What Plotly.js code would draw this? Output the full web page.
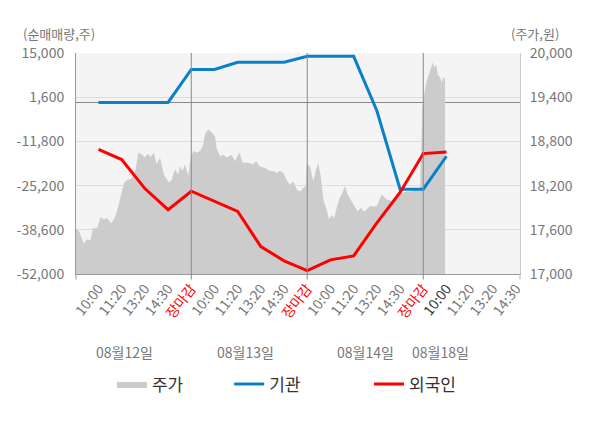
<!DOCTYPE html>
<html>
<head>
<meta charset="utf-8">
<script src="https://cdn.plot.ly/plotly-3.0.1.min.js"></script>
<style>
  body { margin: 0; background: #fff; }
  #graphe { width: 600px; height: 428px; }
</style>
</head>
<body>
<div id="graphe"></div>
<script>
// axe des x : une case par libelle horaire
let creneaux = [0,1,2,3,4,5,6,7,8,9,10,11,12,13,14,15,16,17,18]
let libelles = ["10:00","11:20","13:20","14:30","장마감",
                "10:00","11:20","13:20","14:30","장마감",
                "10:00","11:20","13:20","14:30","장마감",
                "10:00","11:20","13:20","14:30"]
let jours = ["08월12일", "08월13일", "08월14일", "08월18일"]
let separateurs = [4, 9, 14]

// cours (axe de droite)
let cours_x = [-0.97,-0.84,-0.63,-0.51,-0.34,-0.24,-0.06,0.09,0.24,0.37,0.54,0.70,0.84,0.96,1.10,1.24,1.41,1.60,1.72,1.89,
    1.99,2.13,2.25,2.39,2.51,2.65,2.82,3.04,3.16,3.22,3.30,3.44,3.51,3.63,3.73,3.87,
    3.97,4.09,4.23,4.38,4.52,4.59,4.73,4.88,5.02,5.09,5.24,5.38,5.53,5.74,5.88,6.07,6.22,6.46,6.67,6.79,6.96,
    7.18,7.36,7.53,7.68,7.82,7.97,8.11,8.25,8.40,8.54,8.69,8.83,8.93,
    8.97,9.12,9.26,9.36,9.47,9.59,9.69,9.84,9.94,10.05,10.16,10.27,10.37,10.51,10.63,10.74,10.88,11.03,11.17,
    11.31,11.46,11.70,11.99,12.21,12.42,12.64,12.85,13.07,13.28,13.50,13.72,13.86,
    13.96,14.07,14.15,14.25,14.33,14.41,14.47,14.55,14.62,14.72,14.80,14.87,14.94]
let cours = [17620,17580,17410,17470,17460,17620,17620,17770,17740,17760,17690,17760,17900,18050,18240,18280,18290,18420,18650,18620,
    18580,18630,18590,18650,18490,18580,18350,18240,18280,18350,18420,18350,18460,18400,18490,18330,
    18580,18670,18650,18670,18760,18900,18960,18920,18870,18710,18600,18620,18580,18620,18530,18650,18510,18510,18490,18530,18460,
    18440,18400,18400,18370,18400,18370,18280,18210,18260,18150,18120,18170,18190,
    18490,18460,18260,18400,18510,18310,18010,17870,17740,17800,17760,17900,18010,18100,18190,18080,18010,17920,17850,
    17900,17850,17920,17920,18080,18010,17990,18080,18100,18120,18120,18150,18120,
    19260,19490,19620,19710,19780,19870,19800,19850,19710,19670,19600,19670,19650]

// net achats (axe de gauche)
let flux_x = [0,1,2,3,4,5,6,7,8,9,10,11,12,13,14,15]
let institutions = [0,0,0,0,10000,10000,12200,12200,12200,14000,14000,14000,-2500,-26300,-26300,-16300]
let etrangers = [-14200,-17300,-26100,-32500,-26900,-29900,-33000,-43700,-48000,-51000,-47700,-46500,-36500,-27300,-15500,-15000]

let ticks_gauche = [-52000,-38600,-25200,-11800,1600,15000]
let ticks_droite = [17000,17600,18200,18800,19400,20000]

let police = "Noto Sans CJK KR, Noto Sans, sans-serif"

function texte_tick(i){
    if (libelles[i] == "장마감"){
        return '<span style="color:#ff0000">' + libelles[i] + '</span>'
    }
    if (i == 15){
        return '<span style="color:#333333">' + libelles[i] + '</span>'
    }
    return libelles[i]
}

// le cours est sur l'axe de base pour rester sous les courbes
let data = [
    {x: cours_x, y: cours, yaxis: "y", type: "scatter", mode: "lines", name: "주가",
        fill: "tozeroy", fillcolor: "#cccccc", line: {width: 0, color: "#cccccc"}, legend: "legend"},
    {x: flux_x, y: institutions, yaxis: "y2", type: "scatter", mode: "lines", name: "기관",
        line: {width: 3, color: "#0a80c9"}, legend: "legend2"},
    {x: flux_x, y: etrangers, yaxis: "y2", type: "scatter", mode: "lines", name: "외국인",
        line: {width: 3, color: "#ff0000"}, legend: "legend3"}
]

let shapes = []
for (let s of separateurs){
    shapes.push({type: "line", xref: "x", yref: "paper", x0: s, x1: s, y0: -0.025, y1: 1,
        line: {color: "#8a8a8a", width: 1}})
}
shapes.push({type: "line", xref: "paper", yref: "paper", x0: 0, x1: 0, y0: -0.025, y1: 0,
    line: {color: "#999999", width: 1}})
shapes.push({type: "line", xref: "paper", yref: "paper", x0: 1, x1: 1, y0: -0.025, y1: 0,
    line: {color: "#bbbbbb", width: 1}})

let positions_jours = [0.110, 0.381, 0.653, 0.822]
let annotations = [
    {text: "(순매매량,주)", xref: "paper", yref: "paper", x: -0.038, y: 1.09, showarrow: false,
        xanchor: "center", yanchor: "middle", font: {size: 13, color: "#777777", family: police}},
    {text: "(주가,원)", xref: "paper", yref: "paper", x: 1.034, y: 1.09, showarrow: false,
        xanchor: "center", yanchor: "middle", font: {size: 13, color: "#777777", family: police}}
]
for (let i = 0; i < jours.length; i++){
    annotations.push({text: jours[i], xref: "paper", yref: "paper", x: positions_jours[i], y: -0.353,
        showarrow: false, xanchor: "center", yanchor: "middle",
        font: {size: 14, color: "#777777", family: police}})
}

let legende = {orientation: "h", y: -0.5, xanchor: "left", yanchor: "middle",
    bgcolor: "rgba(0,0,0,0)", font: {size: 17, color: "#333333", family: police}}

let layout = {
    width: 600,
    height: 428,
    margin: {l: 76, r: 80, t: 53, b: 154, pad: 0},
    paper_bgcolor: "#ffffff",
    plot_bgcolor: "#f4f4f4",
    font: {family: police, color: "#777777", size: 13},
    xaxis: {
        range: [-0.97, 18.17],
        tickvals: creneaux,
        ticktext: creneaux.map(texte_tick),
        tickangle: -52,
        tickfont: {size: 14, color: "#777777"},
        showgrid: false,
        zeroline: false,
        showline: true,
        linecolor: "#999999",
        ticks: "",
        fixedrange: true
    },
    yaxis: {
        range: [17000, 20000],
        side: "right",
        tickvals: ticks_droite,
        ticktext: ticks_droite.map(v => v.toLocaleString("en-US")),
        gridcolor: "#dddddd",
        zeroline: false,
        showline: true,
        linecolor: "#cccccc",
        ticks: "",
        ticklabelstandoff: 6,
        tickfont: {size: 14, color: "#777777"}
    },
    yaxis2: {
        range: [-52000, 15000],
        overlaying: "y",
        side: "left",
        tickvals: ticks_gauche,
        ticktext: ticks_gauche.map(v => v.toLocaleString("en-US")),
        showgrid: false,
        zeroline: true,
        zerolinecolor: "#888888",
        zerolinewidth: 1,
        showline: true,
        linecolor: "#999999",
        ticks: "",
        ticklabelstandoff: 8,
        tickfont: {size: 14, color: "#777777"}
    },
    showlegend: true,
    legend: Object.assign({}, legende, {x: 0.081}),
    legend2: Object.assign({}, legende, {x: 0.345}),
    legend3: Object.assign({}, legende, {x: 0.660}),
    shapes: shapes,
    annotations: annotations
}

Plotly.newPlot("graphe", data, layout, {staticPlot: true, displayModeBar: false})
</script>
</body>
</html>
